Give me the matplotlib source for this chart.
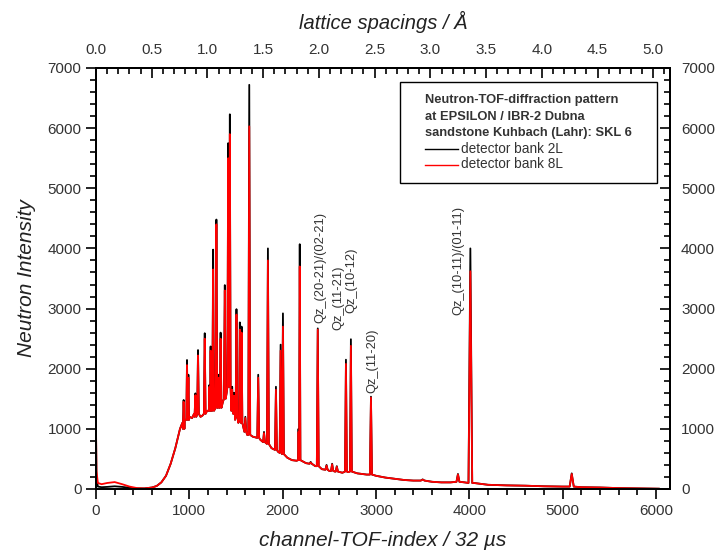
import numpy as np
import matplotlib
matplotlib.use("Agg")
import matplotlib.pyplot as plt
from matplotlib.ticker import MultipleLocator
from matplotlib.lines import Line2D
from matplotlib.patches import Rectangle

plt.rcParams['font.family'] = ['Liberation Sans', 'DejaVu Sans']

# ---------------- data ----------------
# background levels (channel, intensity)
bg_channel = [0, 5, 20, 60, 120, 200, 280, 360, 440, 520, 600, 650, 700, 750, 800,
              850, 900, 925, 950, 1000, 1030, 1050, 1120, 1140, 1190, 1240, 1310,
              1360, 1400, 1470, 1490, 1525, 1590, 1620, 1680, 1760, 1800, 1880, 1950,
              2050, 2100, 2150, 2250, 2350, 2420, 2500, 2560, 2640, 2700, 2800, 2900,
              3000, 3100, 3200, 3300, 3400, 3500, 3600, 3700, 3800, 3950, 4050, 4100,
              4200, 4400, 4600, 4800, 5000, 5200, 5400, 5600, 5800, 6000, 6030]
bg_8L = [1050, 300, 100, 80, 100, 115, 80, 40, 15, 10, 25, 50, 110, 220, 420,
         680, 1000, 1100, 1150, 1200, 1180, 1250, 1200, 1220, 1300, 1350, 1330,
         1450, 1600, 1250, 1150, 1100, 950, 900, 870, 820, 780, 680, 620,
         520, 480, 470, 430, 380, 330, 300, 290, 270, 280, 260, 240,
         220, 190, 170, 150, 140, 150, 120, 110, 110, 110, 100, 90,
         70, 60, 55, 45, 40, 30, 25, 15, 10, 5, 5]
bg_2L = [1000, 200, 40, 30, 35, 45, 35, 20, 10, 10, 25, 50, 110, 220, 420,
         680, 1000, 1100, 1150, 1200, 1180, 1250, 1200, 1220, 1300, 1350, 1330,
         1450, 1600, 1250, 1150, 1100, 950, 900, 870, 820, 780, 680, 620,
         520, 480, 470, 430, 380, 330, 300, 290, 270, 280, 260, 240,
         220, 190, 170, 150, 140, 150, 120, 110, 110, 110, 100, 90,
         70, 60, 55, 45, 40, 30, 25, 15, 10, 5, 5]

# Bragg peaks: channel, foot level, top (bank 2L), top (bank 8L), half width (channels)
peak_channel = [939, 975, 990, 1065, 1093, 1165, 1215, 1228, 1255, 1290, 1313, 1335,
                1380, 1416, 1434, 1459, 1480, 1505, 1541, 1560, 1600, 1642, 1738,
                1800, 1842, 1928, 1978, 2003, 2170, 2183, 2300, 2376, 2470, 2530,
                2580, 2678, 2731, 2946, 3500, 3878, 4011, 5097]
peak_foot = [1000, 1150, 1150, 1200, 1250, 1250, 1300, 1300, 1300, 1350, 1350, 1350,
             1500, 1700, 1700, 1300, 1250, 1200, 1150, 1100, 950, 900, 850,
             780, 750, 650, 600, 580, 480, 480, 420, 380, 320, 300,
             290, 290, 290, 240, 140, 120, 100, 40]
peak_2L = [1480, 2145, 1900, 1590, 2310, 2590, 1730, 2370, 3980, 4480, 1900, 2600,
           3390, 5750, 6230, 1700, 1600, 2990, 2770, 2700, 1200, 6720, 1900,
           950, 4000, 1700, 2400, 2920, 1000, 4070, 450, 2670, 400, 420,
           380, 2150, 2490, 1535, 160, 250, 4000, 260]
peak_8L = [1450, 2060, 1850, 1560, 2220, 2500, 1700, 2300, 3650, 4400, 1850, 2500,
           3300, 5500, 5900, 1650, 1550, 2900, 2650, 2600, 1180, 6030, 1850,
           930, 3800, 1650, 2300, 2700, 950, 3700, 440, 2650, 390, 410,
           370, 2080, 2380, 1520, 155, 240, 3620, 250]
peak_halfwidth = [8, 7, 7, 9, 9, 9, 6, 6, 9, 9, 8, 9,
                  9, 8, 8, 9, 8, 9, 8, 8, 10, 10, 10,
                  10, 10, 10, 10, 10, 6, 7, 12, 10, 12, 12,
                  12, 10, 10, 11, 20, 16, 20, 22]

ann_text = ["Qz_(20-21)/(02-21)", "Qz_(11-21)", "Qz_(10-12)", "Qz_(11-20)",
            "Qz_(10-11)/(01-11)"]
ann_channel = [2400, 2602, 2731, 2960, 3880]
ann_intensity = [2760, 2650, 2920, 1590, 2890]


def build_series(bg_lv):
    pts = []
    pc = np.array(peak_channel)
    hw = np.array(peak_halfwidth)
    for c, v in zip(bg_channel, bg_lv):
        if np.all(np.abs(pc - c) > hw + 1) or c == 0:
            pts.append((c, v))
    return pts


def add_peaks(pts, tops):
    pts = list(pts)
    for c, f, t, w in zip(peak_channel, peak_foot, tops, peak_halfwidth):
        pts += [(c - w, f), (c, t), (c + w, f)]
    pts.sort(key=lambda p: p[0])
    return np.array(pts, dtype=float)


s2L = add_peaks(build_series(bg_2L), peak_2L)
s8L = add_peaks(build_series(bg_8L), peak_8L)

# ---------------- figure ----------------
fig = plt.figure(figsize=(7.28, 5.53), dpi=100)
L, R, T, B = 96, 670, 68, 489
W, H = 728, 553
ax = fig.add_axes([L / W, 1 - B / H, (R - L) / W, (B - T) / H])

txtc = '#333333'
ax.plot(s2L[:, 0], s2L[:, 1], color='black', lw=1.3)
ax.plot(s8L[:, 0], s8L[:, 1], color='#ff0000', lw=1.3)

ax.set_xlim(0, 6150)
ax.set_ylim(0, 7000)
ax.xaxis.set_major_locator(MultipleLocator(1000))
ax.xaxis.set_minor_locator(MultipleLocator(200))
ax.yaxis.set_major_locator(MultipleLocator(1000))
ax.yaxis.set_minor_locator(MultipleLocator(200))
ax.tick_params(which='both', direction='out', colors='black', labelcolor=txtc,
               labelsize=11, width=1.2)
ax.tick_params(which='major', length=7)
ax.tick_params(which='minor', length=4)
for sp in ax.spines.values():
    sp.set_linewidth(1.3)

ax.set_xlabel('channel-TOF-index / 32 µs', fontsize=15, style='italic',
              color='#222222', labelpad=10)
ax.set_ylabel('Neutron Intensity', fontsize=15, style='italic',
              color='#222222', labelpad=8)

# right axis
axr = ax.twinx()
axr.set_ylim(0, 7000)
axr.yaxis.set_major_locator(MultipleLocator(1000))
axr.yaxis.set_minor_locator(MultipleLocator(200))
axr.tick_params(which='both', direction='in', labelcolor=txtc, labelsize=11, width=1.2)
axr.tick_params(which='major', length=7, pad=8)
axr.tick_params(which='minor', length=4)

# top axis
axt = ax.twiny()
axt.set_xlim(0, 5.15)
axt.xaxis.set_major_locator(MultipleLocator(0.5))
axt.xaxis.set_minor_locator(MultipleLocator(0.1))
axt.xaxis.set_major_formatter(matplotlib.ticker.FormatStrFormatter('%.1f'))
axt.tick_params(which='both', direction='in', labelcolor=txtc, labelsize=11, width=1.2)
axt.tick_params(which='major', length=7, pad=8)
axt.tick_params(which='minor', length=4)
axt.set_xlabel('lattice spacings / Å', fontsize=14.5, style='italic',
               color='#222222', labelpad=10)
for a in (axr, axt):
    for sp in a.spines.values():
        sp.set_linewidth(1.3)

# peak annotations
for t, c, v in zip(ann_text, ann_channel, ann_intensity):
    ax.text(c, v, t, rotation=90, ha='center', va='bottom', fontsize=9.3,
            color=txtc)

# legend box
def fx(px):
    return (px - L) / (R - L)

def fy(py):
    return (B - py) / (B - T)

ax.add_patch(Rectangle((fx(400), fy(183)), fx(657) - fx(400), fy(82) - fy(183),
                       transform=ax.transAxes, facecolor='white',
                       edgecolor='black', lw=1.0, zorder=5))
title_lines = ['Neutron-TOF-diffraction pattern', 'at EPSILON / IBR-2 Dubna',
               'sandstone Kuhbach (Lahr): SKL 6']
for i, line in enumerate(title_lines):
    ax.text(fx(425), fy(100 + 16.5 * i), line, transform=ax.transAxes,
            fontsize=9.3, fontweight='bold', color=txtc, va='center', ha='left',
            zorder=6)
for i, (lab, col) in enumerate([('detector bank 2L', 'black'),
                                ('detector bank 8L', '#ff0000')]):
    yy = fy(149 + 15.5 * i)
    ax.add_line(Line2D([fx(425), fx(458)], [yy, yy], transform=ax.transAxes,
                       color=col, lw=1.0, zorder=6))
    ax.text(fx(461), yy, lab, transform=ax.transAxes, fontsize=9.8,
            color=txtc, va='center', ha='left', zorder=6)

fig.savefig('out.png', dpi=100)
